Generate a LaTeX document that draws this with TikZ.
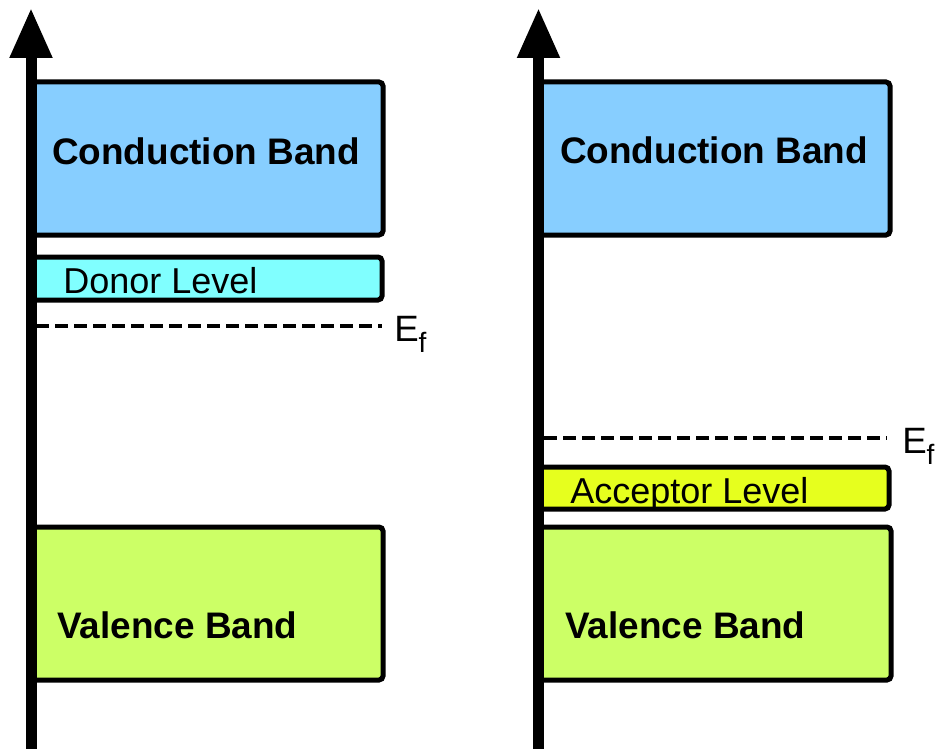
\documentclass[tikz,border=0pt]{standalone}
\usepackage{fontspec}
\setmainfont{Liberation Sans}
\usetikzlibrary{arrows.meta,fit}
\definecolor{cbcol}{RGB}{135,206,255}
\definecolor{donorcol}{RGB}{128,255,255}
\definecolor{vbcol}{RGB}{204,255,102}
\definecolor{acccol}{RGB}{230,255,30}
\tikzset{
  band/.style={draw=black, line width=3.75pt, rounded corners=3pt, inner sep=0pt},
  bandtext/.style={inner sep=0pt, font=\fontsize{27.7}{30}\selectfont\bfseries},
  leveltext/.style={inner sep=0pt, font=\fontsize{27}{30}\selectfont},
  eftext/.style={inner sep=0pt, font=\fontsize{27.5}{30}\selectfont},
  axisline/.style={line width=8.25pt, -{Triangle[length=37.5pt,width=30pt]}},
  fermi/.style={line width=3.6pt, dash pattern=on 9.75pt off 4.5pt}
}
\begin{document}
\begin{tikzpicture}[x=0.75pt,y=-0.75pt]
\path[use as bounding box] (0,0) rectangle (936,749);
% left panel
\node[band, fill=cbcol, fit={(32,82)(383,235)}] (cbL) {};
\node[band, fill=donorcol, fit={(32,257)(382,300)}] (donor) {};
\node[band, fill=vbcol, fit={(32,527)(383,680)}] (vbL) {};
\node[bandtext, anchor=base] (cbLt) at (206,165) {Conduction Band};
\node[leveltext, anchor=base west] (donort) at (63,293) {Donor Level};
\node[bandtext, anchor=base west] (vbLt) at (57,638) {Valence Band};
\coordinate (axLb) at (31,749);
\coordinate (axLt) at (31,8);
\draw[axisline] (axLb) -- (axLt);
\coordinate (efLs) at (36,326);
\coordinate (efLe) at (382,326);
\draw[fermi] (efLs) -- (efLe);
\node[eftext, anchor=base west] (efL) at (394,341) {E\raisebox{-0.3em}{\fontsize{21}{21}\selectfont f}};
% right panel
\node[band, fill=cbcol, fit={(538,82)(890,235)}] (cbR) {};
\node[band, fill=acccol, fit={(538,467)(889,509)}] (acc) {};
\node[band, fill=vbcol, fit={(538,527)(891,680)}] (vbR) {};
\node[bandtext, anchor=base] (cbRt) at (714,163) {Conduction Band};
\node[leveltext, anchor=base west] (acct) at (570,503) {Acceptor Level};
\node[bandtext, anchor=base west] (vbRt) at (565,638) {Valence Band};
\coordinate (axRb) at (538.5,749);
\coordinate (axRt) at (538.5,8);
\draw[axisline] (axRb) -- (axRt);
\coordinate (efRs) at (544,438);
\coordinate (efRe) at (887,438);
\draw[fermi] (efRs) -- (efRe);
\node[eftext, anchor=base west] (efR) at (902,453) {E\raisebox{-0.3em}{\fontsize{21}{21}\selectfont f}};
\end{tikzpicture}
\end{document}
